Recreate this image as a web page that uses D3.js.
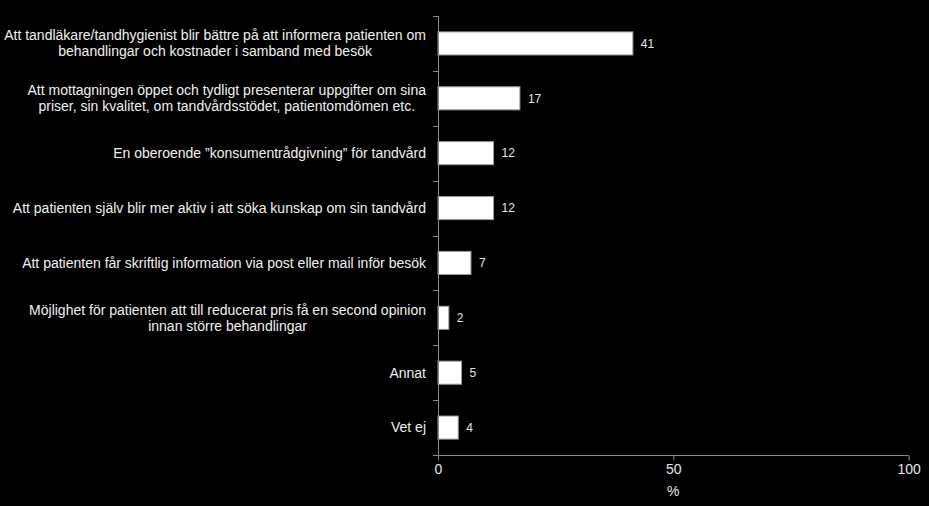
<!DOCTYPE html>
<html><head><meta charset="utf-8">
<script src="https://cdn.jsdelivr.net/npm/d3@7"></script>
<style>
html,body{margin:0;padding:0;background:#000;}
svg{display:block;}
</style></head>
<body>
<svg id="chart" width="929" height="506"></svg>
<script>
const categories = [
  ["Att tandläkare/tandhygienist blir bättre på att informera patienten om", "behandlingar och kostnader i samband med besök"],
  ["Att mottagningen öppet och tydligt presenterar uppgifter om sina", "priser, sin kvalitet, om tandvårdsstödet, patientomdömen etc."],
  ["En oberoende \u201dkonsumentrådgivning\u201d för tandvård"],
  ["Att patienten själv blir mer aktiv i att söka kunskap om sin tandvård"],
  ["Att patienten får skriftlig information via post eller mail inför besök"],
  ["Möjlighet för patienten att till reducerat pris få en second opinion", "innan större behandlingar"],
  ["Annat"],
  ["Vet ej"]
];
const values = [41.4, 17.4, 11.8, 11.8, 7.0, 2.3, 5.0, 4.3];
const valueLabels = ["41", "17", "12", "12", "7", "2", "5", "4"];
const xTicks = [0, 50, 100];
const xTitle = "%";

(function () {
const svg = d3.select("#chart");
const W = 929, H = 506;
svg.append("rect").attr("width", W).attr("height", H).attr("fill", "#000");

const pL = 438, pR = 908.7, pT = 16, pB = 455;
const font = "Arial, 'Liberation Sans', sans-serif";

const x = d3.scaleLinear().domain([0, 100]).range([pL, pR]);
const y = d3.scaleBand().domain(d3.range(categories.length)).range([pT, pB]).paddingInner(0.58).paddingOuter(0.29);
const band = d3.scaleBand().domain(d3.range(categories.length)).range([pT, pB]);

const axisColor = "#8a8a8a";

// bars
svg.append("g").selectAll("rect").data(values).join("rect")
  .attr("x", x(0))
  .attr("y", (d, i) => y(i))
  .attr("width", d => x(d) - x(0))
  .attr("height", y.bandwidth())
  .attr("fill", "#fff")
  .attr("stroke", "#9a9a9a")
  .attr("stroke-width", 1);

// value labels
svg.append("g").selectAll("text").data(values).join("text")
  .attr("x", d => x(d) + 8)
  .attr("y", (d, i) => y(i) + y.bandwidth() / 2)
  .attr("dy", "0.35em")
  .attr("fill", "#e6e6e6")
  .attr("font-family", font)
  .attr("font-size", 12)
  .text((d, i) => valueLabels[i]);

// y axis (line + ticks at band boundaries)
const yAxis = svg.append("g");
yAxis.append("line").attr("x1", pL + 0.5).attr("x2", pL + 0.5).attr("y1", pT).attr("y2", pB)
  .attr("stroke", axisColor);
const boundaries = d3.range(categories.length + 1).map(i => i < categories.length ? band(i) : pB);
yAxis.selectAll("line.tick").data(boundaries).join("line").attr("class", "tick")
  .attr("x1", pL - 5).attr("x2", pL).attr("y1", d => Math.round(d) + 0.5).attr("y2", d => Math.round(d) + 0.5)
  .attr("stroke", axisColor);

// x axis
const xAxisG = svg.append("g").attr("transform", `translate(0,${pB + 0.5})`)
  .call(d3.axisBottom(x).tickValues(xTicks).tickSize(5).tickPadding(4));
xAxisG.select(".domain").attr("stroke", axisColor).attr("d", `M${pL},0H${pR}`);
xAxisG.selectAll(".tick line").attr("stroke", axisColor);
xAxisG.selectAll(".tick text").attr("fill", "#e6e6e6").attr("font-family", font).attr("font-size", 14);

svg.append("text").attr("x", x(50)).attr("y", 496).attr("text-anchor", "middle")
  .attr("fill", "#e6e6e6").attr("font-family", font).attr("font-size", 14).text(xTitle);

// category labels: lines centered within block, block right-aligned
const labelRight = 426;
const lineH = 16;
const lg = svg.append("g");
categories.forEach((lines, i) => {
  const cy = y(i) + y.bandwidth() / 2;
  const g = lg.append("g");
  const texts = lines.map((t, j) => g.append("text")
    .attr("y", cy + (j - (lines.length - 1) / 2) * lineH)
    .attr("dy", "0.35em")
    .attr("fill", "#f0f0f0")
    .attr("font-family", font)
    .attr("font-size", 14)
    .attr("text-anchor", "middle")
    .text(t));
  const maxW = d3.max(texts, t => t.node().getComputedTextLength());
  texts.forEach(t => t.attr("x", labelRight - maxW / 2));
});
})();
</script>
</body></html>
